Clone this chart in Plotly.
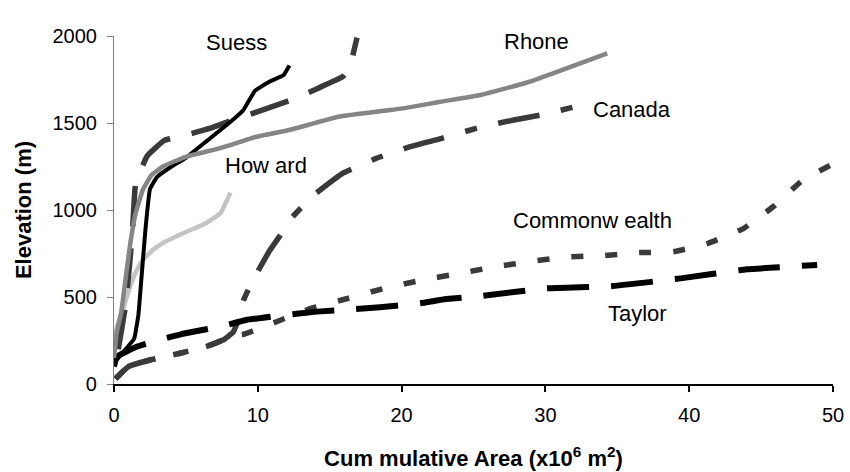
import plotly.graph_objects as go

# ---- data (x: cumulative area x10^6 m^2, y: elevation m) ----
suess_x = [0.0, 0.6, 1.4, 1.7, 1.9, 2.2, 2.5, 3.0, 4.0, 5.0, 6.5, 8.0, 9.0, 9.8, 10.8, 11.8, 12.2]
suess_y = [120, 180, 260, 400, 600, 900, 1120, 1190, 1250, 1300, 1400, 1500, 1575, 1685, 1737, 1776, 1830]

lacroix_x = [0.3, 0.8, 1.1, 1.3, 1.5, 2.3, 3.5, 5.0, 6.7, 8.0, 9.7, 11.3, 12.5, 14.2, 15.9, 16.4, 16.9]
lacroix_y = [200, 450, 700, 900, 1150, 1310, 1400, 1430, 1470, 1510, 1557, 1603, 1638, 1700, 1766, 1824, 1990]

rhone_x = [0.0, 0.2, 0.5, 0.8, 1.1, 1.5, 2.0, 2.6, 3.4, 5.0, 7.4, 9.9, 12.2, 15.6, 20.1, 22.7, 25.5, 28.9, 34.3]
rhone_y = [150, 300, 410, 600, 790, 980, 1115, 1200, 1250, 1306, 1356, 1421, 1460, 1536, 1584, 1622, 1661, 1737, 1900]

howard_x = [0.0, 0.2, 0.6, 1.0, 1.5, 2.0, 2.7, 3.4, 4.8, 6.4, 7.4, 8.1]
howard_y = [200, 330, 420, 530, 640, 713, 770, 810, 866, 924, 981, 1100]

canada_x = [0.1, 1.0, 2.5, 4.6, 6.4, 7.6, 8.3, 8.7, 9.0, 9.6, 10.85, 11.5, 12.3, 13.9, 15.95, 18.3, 20.6, 22.8, 25.6, 27.8, 29.7, 32.5]
canada_y = [30, 100, 138, 177, 215, 253, 300, 380, 480, 588, 770, 847, 950, 1086, 1213, 1299, 1364, 1412, 1479, 1517, 1546, 1603]

common_x = [0.1, 1.0, 2.5, 4.6, 6.4, 7.6, 8.3, 9.0, 11.3, 13.75, 16.3, 18.8, 21.4, 23.8, 26.4, 28.9, 31.4, 33.9, 36.5, 38.9, 41.3, 43.8, 45.9, 47.9, 50.0]
common_y = [30, 100, 138, 177, 215, 253, 280, 285, 358, 436, 493, 550, 597, 632, 672, 703, 730, 737, 755, 760, 808, 895, 1023, 1172, 1265]

taylor_x = [0.0, 0.2, 1.6, 2.7, 4.7, 7.4, 9.2, 11.3, 14.1, 16.6, 18.5, 21.3, 23.1, 25.5, 30.1, 34.7, 39.4, 44.0, 48.9]
taylor_y = [100, 157, 215, 243, 287, 330, 368, 391, 416, 429, 441, 464, 488, 506, 550, 563, 607, 659, 684]

label_text = ["Suess", "LaCroix", "Rhone", "Canada", "How ard", "Commonw ealth", "Taylor"]
label_x = [8.5, 18.5, 29.4, 36.0, 10.6, 33.3, 36.4]
label_y = [1965, 2075, 1966, 1575, 1253, 937, 408]

x_ticks = [0, 10, 20, 30, 40, 50]
y_ticks = [0, 500, 1000, 1500, 2000]

FONT = "Liberation Sans, Arial, sans-serif"

fig = go.Figure()

def add(x, y, color, width, dash):
    fig.add_trace(go.Scatter(x=x, y=y, mode="lines",
                             line=dict(color=color, width=width, dash=dash, shape="spline", smoothing=0.3),
                             showlegend=False, hoverinfo="skip"))

add(common_x, common_y, "#3a3a3a", 5.5, "12px,22px")
add(canada_x, canada_y, "#3a3a3a", 5.5, "42px,22px,12px,22px")
add(taylor_x, taylor_y, "#000000", 6, "42px,22px")
add(howard_x, howard_y, "#c4c4c4", 4.5, "solid")
add(lacroix_x, lacroix_y, "#3a3a3a", 5.5, "40px,22px")
add(suess_x, suess_y, "#000000", 4, "solid")
add(rhone_x, rhone_y, "#858585", 4.5, "solid")

for t, x, y in zip(label_text, label_x, label_y):
    fig.add_annotation(x=x, y=y, text=t, showarrow=False,
                       font=dict(family=FONT, size=22, color="#000"))

fig.update_layout(
    width=850, height=472,
    margin=dict(l=114, r=17, t=36, b=88, autoexpand=False),
    paper_bgcolor="white", plot_bgcolor="white",
    font=dict(family=FONT, size=20, color="#000"),
    xaxis=dict(range=[0, 50], tickvals=x_ticks, showgrid=False, zeroline=False,
               showline=True, linecolor="#000", linewidth=1.5, automargin=False,
               ticks="outside", ticklen=6, tickcolor="#000", tickwidth=1.5,
               ticklabelstandoff=6, tickfont=dict(size=20),
               title=dict(text="<b>Cum mulative Area (x10<sup>6</sup> m<sup>2</sup>)</b>",
                          font=dict(size=22), standoff=26)),
    yaxis=dict(range=[0, 2000], tickvals=y_ticks, showgrid=False, zeroline=False,
               showline=True, linecolor="#808080", linewidth=1.2, automargin=False,
               ticks="outside", ticklen=6, tickcolor="#808080", tickwidth=1.2,
               ticklabelstandoff=6, tickfont=dict(size=20),
               title=dict(text="<b>Elevation (m)</b>", font=dict(size=22), standoff=14)),
)

fig.write_html("out.html")
